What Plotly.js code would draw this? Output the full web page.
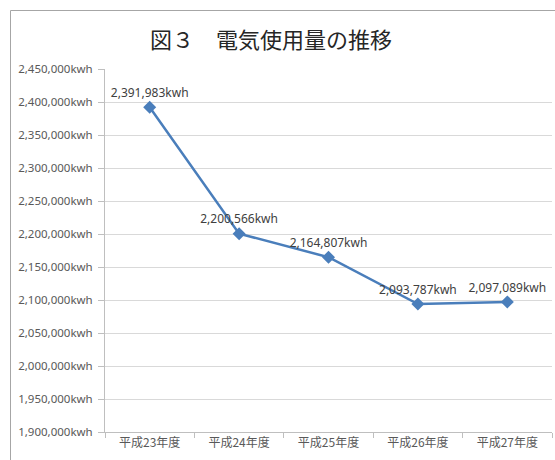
<!DOCTYPE html>
<html>
<head>
<meta charset="utf-8">
<script src="https://cdn.plot.ly/plotly-3.0.1.min.js"></script>
<style>html,body{margin:0;padding:0;background:#fff;overflow:hidden;}#chart{width:555px;height:460px;}</style>
</head>
<body>
<div id="chart"></div>
<script>
const categories = ["平成23年度", "平成24年度", "平成25年度", "平成26年度", "平成27年度"];
const usage = [2391983, 2200566, 2164807, 2093787, 2097089];
const yTicks = [1900000, 1950000, 2000000, 2050000, 2100000, 2150000, 2200000, 2250000, 2300000, 2350000, 2400000, 2450000];
const chartTitle = "図３　電気使用量の推移";
const unit = "kwh";

const fmt = v => v.toLocaleString("en-US") + unit;

const W = 555, H = 460;
const L = 105, R = 3, T = 69, B = 28;
const pw = W - L - R, ph = H - T - B;
const px = x => (x - L) / pw;
const py = y => (H - B - y) / ph;

const trace = {
  x: categories,
  y: usage,
  type: "scatter",
  mode: "lines+markers+text",
  text: usage.map(fmt),
  textposition: "top center",
  textfont: {family: "Noto Sans, Noto Sans CJK JP, sans-serif", size: 12, color: "#404040"},
  line: {color: "#4A7EBB", width: 2.5},
  marker: {symbol: "diamond", size: 10, color: "#4A7EBB"},
  cliponaxis: false,
  hoverinfo: "none"
};

const frame = {color: "#a6a6a6", width: 1};

const layout = {
  width: W, height: H,
  margin: {l: L, r: R, t: T, b: B},
  paper_bgcolor: "#ffffff",
  plot_bgcolor: "#ffffff",
  showlegend: false,
  title: {
    text: chartTitle,
    font: {family: "Noto Sans CJK JP, sans-serif", size: 22, color: "#262626"},
    x: 271 / W, xref: "container", xanchor: "center",
    y: 1 - 40 / H, yref: "container", yanchor: "middle"
  },
  xaxis: {
    type: "category",
    range: [-0.5, categories.length - 0.5],
    showgrid: false,
    showline: true, linecolor: "#bfbfbf", linewidth: 1,
    ticks: "outside", tickson: "boundaries", ticklen: 5, tickcolor: "#bfbfbf",
    tickfont: {family: "Noto Sans CJK JP, sans-serif", size: 12, color: "#595959"},
    fixedrange: true
  },
  yaxis: {
    range: [1900000, 2450000],
    tickvals: yTicks,
    ticktext: yTicks.map(fmt),
    showgrid: true, gridcolor: "#d9d9d9", gridwidth: 1,
    showline: true, linecolor: "#bfbfbf", linewidth: 1,
    ticks: "outside", ticklen: 6, tickcolor: "#bfbfbf",
    ticklabelstandoff: 3,
    tickfont: {family: "Noto Sans, sans-serif", size: 11.5, color: "#595959"},
    zeroline: false,
    fixedrange: true
  },
  shapes: [
    {type: "line", xref: "paper", yref: "paper", x0: px(10.5), x1: px(10.5), y0: py(10.5), y1: py(480), line: frame, layer: "below"},
    {type: "line", xref: "paper", yref: "paper", x0: px(10.5), x1: px(600), y0: py(10.5), y1: py(10.5), line: frame, layer: "below"}
  ]
};

Plotly.newPlot("chart", [trace], layout, {displayModeBar: false, staticPlot: true});
</script>
</body>
</html>
